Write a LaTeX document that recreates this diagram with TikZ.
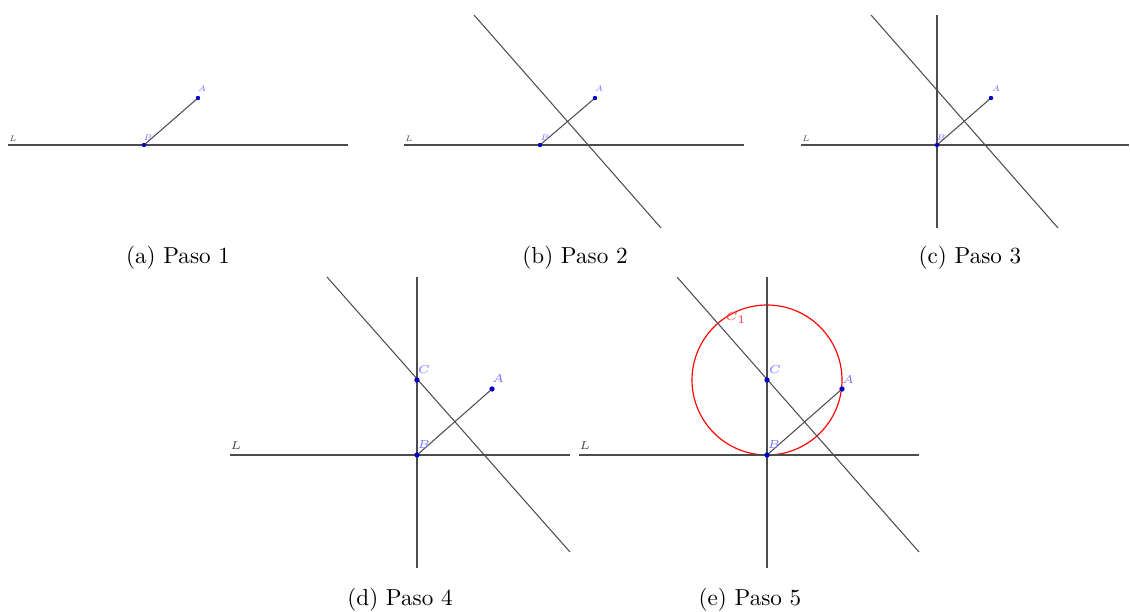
\documentclass[tikz,border=0pt]{standalone}
\usepackage{xcolor}
\usepackage{tikz}
\usetikzlibrary{positioning}
\definecolor{ptblue}{rgb}{0.0, 0.0, 0.8}
\definecolor{lblblue}{rgb}{0.45, 0.45, 1.0}
\definecolor{linegray}{rgb}{0.3, 0.3, 0.3}

\begin{document}
\begin{tikzpicture}[
  x=0.0152cm, y=-0.0152cm,
  pt/.style={circle, fill=ptblue, inner sep=0pt, minimum size=2.3pt},
  ptsmall/.style={pt, minimum size=1.9pt},
  lbl/.style={text=lblblue, font=\tiny, inner sep=0pt},
  lblsmall/.style={lbl, transform shape, scale=0.7},
  linelbl/.style={text=linegray, font=\tiny, inner sep=0pt},
  geo/.style={draw=linegray, line width=0.45pt},
  circ/.style={draw=red, line width=0.5pt},
  caption/.style={font=\normalsize}
]
\useasboundingbox (0,0) rectangle (1130,612);

% Paso 1
\coordinate (La1) at (8,145);
\coordinate (La2) at (348,145);
\coordinate (Ba) at (144,145);
\coordinate (Aa) at (198,98);
\draw[geo] (La1) -- (La2);
\draw[geo] (Ba) -- (Aa);
\node[ptsmall] (pBa) at (Ba) {};
\node[ptsmall] (pAa) at (Aa) {};
\node[linelbl, lblsmall, text=linegray] (lLa) at (13,139) {$L$};
\node[lblsmall] (lAa) at (202,89) {$A$};
\node[lblsmall] (lBa) at (148,138) {$B$};
\node[caption] (capa) at (178,258) {(a) Paso 1};

% Paso 2
\coordinate (Lb1) at (404,145);
\coordinate (Lb2) at (744,145);
\coordinate (Mb1) at (474,15);
\coordinate (Mb2) at (661,228);
\coordinate (Bb) at (540,145);
\coordinate (Ab) at (595,98);
\draw[geo] (Lb1) -- (Lb2);
\draw[geo] (Bb) -- (Ab);
\draw[geo] (Mb1) -- (Mb2);
\node[ptsmall] (pBb) at (Bb) {};
\node[ptsmall] (pAb) at (Ab) {};
\node[linelbl, lblsmall, text=linegray] (lLb) at (409,139) {$L$};
\node[lblsmall] (lAb) at (599,89) {$A$};
\node[lblsmall] (lBb) at (545,138) {$B$};
\node[caption] (capb) at (575,258) {(b) Paso 2};

% Paso 3
\coordinate (Lc1) at (801,145);
\coordinate (Lc2) at (1129,145);
\coordinate (Mc1) at (871,15);
\coordinate (Mc2) at (1058,228);
\coordinate (Pc1) at (937,15);
\coordinate (Pc2) at (937,228);
\coordinate (Bc) at (937,145);
\coordinate (Ac) at (991,98);
\draw[geo] (Lc1) -- (Lc2);
\draw[geo] (Pc1) -- (Pc2);
\draw[geo] (Bc) -- (Ac);
\draw[geo] (Mc1) -- (Mc2);
\node[ptsmall] (pBc) at (Bc) {};
\node[ptsmall] (pAc) at (Ac) {};
\node[linelbl, lblsmall, text=linegray] (lLc) at (806,139) {$L$};
\node[lblsmall] (lAc) at (996,89) {$A$};
\node[lblsmall] (lBc) at (941,138) {$B$};
\node[caption] (capc) at (970,258) {(c) Paso 3};

% Paso 4
\coordinate (Ld1) at (230,455);
\coordinate (Ld2) at (570,455);
\coordinate (Md1) at (327,277);
\coordinate (Md2) at (570,552);
\coordinate (Pd1) at (417,277);
\coordinate (Pd2) at (417,568);
\coordinate (Bd) at (417,455);
\coordinate (Cd) at (417,380);
\coordinate (Ad) at (492,389);
\draw[geo] (Ld1) -- (Ld2);
\draw[geo] (Pd1) -- (Pd2);
\draw[geo] (Bd) -- (Ad);
\draw[geo] (Md1) -- (Md2);
\node[pt] (pBd) at (Bd) {};
\node[pt] (pCd) at (Cd) {};
\node[pt] (pAd) at (Ad) {};
\node[linelbl] (lLd) at (236,446) {$L$};
\node[lbl] (lCd) at (424,370) {$C$};
\node[lbl] (lAd) at (498,379) {$A$};
\node[lbl] (lBd) at (424,445) {$B$};
\node[caption] (capd) at (400,600) {(d) Paso 4};

% Paso 5
\coordinate (Le1) at (579,455);
\coordinate (Le2) at (919,455);
\coordinate (Me1) at (677,277);
\coordinate (Me2) at (919,552);
\coordinate (Pe1) at (767,277);
\coordinate (Pe2) at (767,568);
\coordinate (Be) at (767,455);
\coordinate (Ce) at (767,380);
\coordinate (Ae) at (842,389);
\draw[circ] (Ce) circle[radius=75];
\draw[geo] (Le1) -- (Le2);
\draw[geo] (Pe1) -- (Pe2);
\draw[geo] (Be) -- (Ae);
\draw[geo] (Me1) -- (Me2);
\node[pt] (pBe) at (Be) {};
\node[pt] (pCe) at (Ce) {};
\node[pt] (pAe) at (Ae) {};
\node[linelbl] (lLe) at (585,446) {$L$};
\node[lbl] (lCe) at (775,370) {$C$};
\node[lbl] (lAe) at (848,380) {$A$};
\node[lbl] (lBe) at (774,445) {$B$};
\node[lbl, text=red!75] (lC1) at (736,318) {$C_1$};
\node[caption] (cape) at (750,600) {(e) Paso 5};

\end{tikzpicture}
\end{document}
